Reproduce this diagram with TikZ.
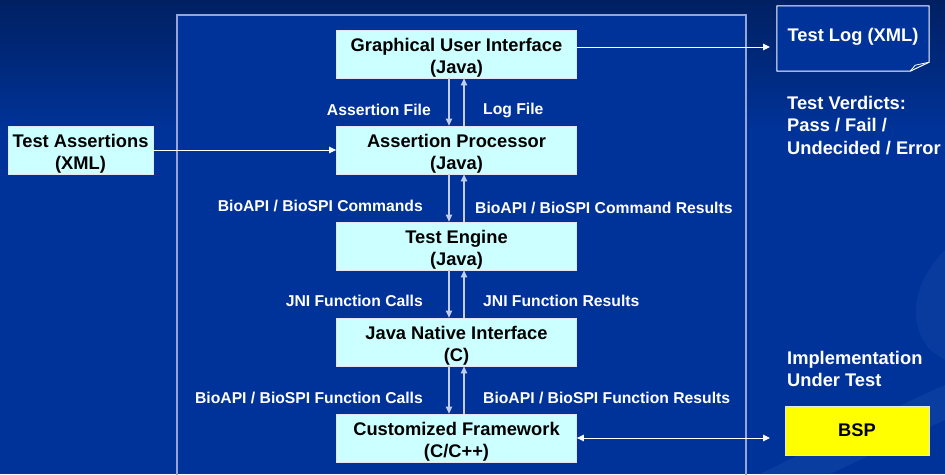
\documentclass[tikz,border=0pt]{standalone}
\usepackage{fontspec}
\setmainfont{Liberation Sans}
\usetikzlibrary{arrows.meta,calc}
\definecolor{bgblue}{RGB}{0,51,153}
\definecolor{bgtop}{RGB}{0,32,98}
\definecolor{bglight}{RGB}{30,80,175}
\definecolor{boxfill}{RGB}{204,255,255}
\definecolor{framec}{RGB}{150,165,215}
\definecolor{vline}{RGB}{195,205,238}
\definecolor{boxedge}{RGB}{225,230,240}
\definecolor{bspyellow}{RGB}{255,255,0}
\newcommand{\tstrut}{\rule{0pt}{20.5pt}}
\begin{document}
\begin{tikzpicture}[x=1pt,y=-1pt,
  bigfont/.style={font=\fontsize{18.3}{22.3}\selectfont\bfseries},
  layerbox/.style={bigfont, draw=boxedge, line width=0.8pt, fill=boxfill, text=black,
    minimum width=240pt, minimum height=48pt, inner sep=0pt, align=center},
  lbl/.style={font=\fontsize{15.7}{18}\selectfont\bfseries, text=white, inner sep=0pt},
  rtxt/.style={font=\fontsize{18.3}{22.5}\selectfont\bfseries, text=white, inner sep=0pt, align=left},
  conn/.style={draw=white, line width=1pt, -{Triangle[length=7pt,width=6.5pt]}},
  vconn/.style={draw=vline, line width=1.1pt, -{Triangle[length=7pt,width=6.5pt]}}
]
\useasboundingbox (0,0) rectangle (945,474);
% background
\shade[top color=bgtop, bottom color=bgblue] (0,0) rectangle (945,131);
\fill[bgblue] (0,130) rectangle (945,474);
\fill[bglight, opacity=0.35] (760,474) .. controls (850,430) and (910,400) .. (945,385) -- (945,420) .. controls (900,440) and (860,460) .. (830,474) -- cycle;
\fill[bglight, opacity=0.3] (945,250) .. controls (915,280) and (905,320) .. (930,350) -- (945,360) -- cycle;
% frame
\fill[bgblue] (177,15) rectangle (746,474);
\draw[framec, line width=1.1pt] (177,475) -- (177,15) -- (746,15) -- (746,475);

% layer boxes
\node[layerbox] (gui) at (456.5,54)  {\tstrut Graphical User Interface\\(Java)};
\node[layerbox] (ap)  at (456.5,150) {\tstrut Assertion Processor\\(Java)};
\node[layerbox] (te)  at (456.5,246) {\tstrut Test Engine\\(Java)};
\node[layerbox] (jni) at (456.5,342) {\tstrut Java Native Interface\\(C)};
\node[layerbox] (cf)  at (456.5,438) {\tstrut Customized Framework\\(C/C++)};

% side boxes
\node[layerbox, minimum width=145pt] (ta) at (80.5,150) {\tstrut Test Assertions\\(XML)};
\node[bigfont, draw=boxedge, line width=0.8pt, fill=bspyellow, text=black,
  minimum width=144pt, minimum height=49pt, inner sep=0pt] (bsp) at (857,430.5) {BSP};
\node[bigfont, text=white, minimum width=152pt, minimum height=65pt, inner sep=0pt] (tl) at (853,38.5) {};
\fill[bgblue] (tl.north west) -- (tl.north east) -- ($(tl.south east)+(0,-9)$)
  -- ($(tl.south east)+(-19,0)$) -- (tl.south west) -- cycle;
\draw[white, line width=1pt, line join=round] (tl.north west) -- (tl.north east) -- ($(tl.south east)+(0,-9)$)
  -- ($(tl.south east)+(-19,0)$) -- (tl.south west) -- cycle;
\draw[white, line width=0.8pt, line join=round] ($(tl.south east)+(-19,0)$) -- ($(tl.south east)+(-14,-6)$) -- ($(tl.south east)+(0,-9)$);
\node[bigfont, text=white, inner sep=0pt] (tltext) at ($(tl.center)+(0,-2)$) {Test Log (XML)};

% vertical connectors
\foreach \a/\b in {gui/ap, ap/te, te/jni, jni/cf}{
  \draw[vconn] ($(\a.south)+(-7.5,0)$) -- ($(\b.north)+(-7.5,0)$);
  \draw[vconn] ($(\b.north)+(7.5,0)$) -- ($(\a.south)+(7.5,0)$);
}

% horizontal connectors
\coordinate (tlin) at (770,47);
\coordinate (bspin) at (770,438);
\draw[conn] ($(gui.east)+(0,-7)$) -- (tlin);
\draw[conn] (ta.east) -- (ap.west);
\draw[conn, {Triangle[length=7pt,width=6.5pt]}-{Triangle[length=7pt,width=6.5pt]}] (cf.east) -- (bspin);

% connector labels
\node[lbl, anchor=east] (l1) at (431,110) {Assertion File};
\node[lbl, anchor=west] (l2) at (483,110) {Log File};
\node[lbl, anchor=east] (l3) at (423,206) {BioAPI / BioSPI Commands};
\node[lbl, anchor=west] (l4) at (475,208) {BioAPI / BioSPI Command Results};
\node[lbl, anchor=east] (l5) at (423,301) {JNI Function Calls};
\node[lbl, anchor=west] (l6) at (483,301) {JNI Function Results};
\node[lbl, anchor=east] (l7) at (423,398) {BioAPI / BioSPI Function Calls};
\node[lbl, anchor=west] (l8) at (483,398) {BioAPI / BioSPI Function Results};

% right texts
\node[rtxt, anchor=north west] (tv) at (787,96) {Test Verdicts:\\Pass / Fail /\\Undecided / Error};
\node[rtxt, anchor=north west] (iut) at (787,351) {Implementation\\Under Test};
\end{tikzpicture}
\end{document}
